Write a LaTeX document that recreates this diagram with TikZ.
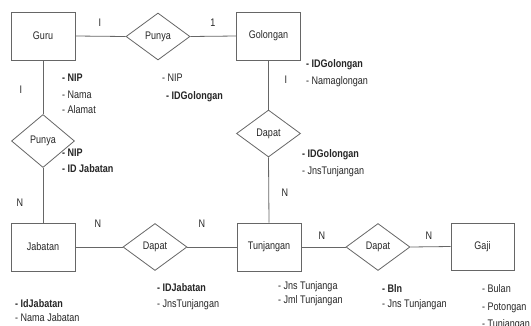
\documentclass[tikz,border=0pt]{standalone}
\usepackage{fontspec}
\setmainfont{Liberation Sans}[FakeStretch=0.82]
\usetikzlibrary{shapes.geometric}
\begin{document}
\begin{tikzpicture}[x=1pt,y=-1pt,
  font=\fontsize{11}{13}\selectfont,
  entity/.style={draw=black!60,line width=0.8pt,rectangle,minimum width=64pt,minimum height=48pt,inner sep=0pt,text=black!85},
  relation/.style={draw=black!60,line width=0.8pt,diamond,minimum width=64pt,minimum height=47pt,inner sep=0pt,text=black!85},
  link/.style={draw=black!60,line width=0.8pt},
  card/.style={text=black!85,inner sep=0pt},
  attr/.style={anchor=base west,inner sep=0pt,text=black!85},
  key/.style={attr,font=\fontsize{11}{13}\selectfont\bfseries}]
\useasboundingbox (0,0) rectangle (531,325);
\fill[white] (0,0) rectangle (531,325);

% entities
\node[entity] (guru) at (43,36) {Guru};
\node[entity] (golongan) at (268.5,36) {Golongan};
\node[entity] (jabatan) at (43,247) {Jabatan};
\node[entity] (tunjangan) at (269,247) {Tunjangan};
\node[entity,minimum width=63pt,minimum height=47pt] (gaji) at (482.5,246.5) {Gaji};

% relationships
\node[relation] (punyaA) at (158,36.5) {Punya};
\node[relation,minimum width=63pt,minimum height=53pt] (punyaB) at (43,141) {Punya};
\node[relation] (dapatA) at (268.5,133.5) {Dapat};
\node[relation] (dapatB) at (155,247) {Dapat};
\node[relation] (dapatC) at (378,247) {Dapat};

% connectors
\draw[link] (guru.east) -- (punyaA.west);
\draw[link] (punyaA.east) -- (golongan.west);
\draw[link] (guru.south) -- (punyaB.north);
\draw[link] (punyaB.south) -- (jabatan.north);
\draw[link] (golongan.south) -- (dapatA.north);
\draw[link] (dapatA.south) -- (tunjangan.north);
\draw[link] (jabatan.east) -- (dapatB.west);
\draw[link] (dapatB.east) -- (tunjangan.west);
\draw[link] (tunjangan.east) -- (dapatC.west);
\draw[link] (dapatC.east) -- (gaji.west);

% cardinalities
\node[card] (c1) at (100,23) {I};
\node[card] (c2) at (213,23) {1};
\node[card] (c3) at (21,90) {I};
\node[card] (c4) at (20,203) {N};
\node[card] (c5) at (286,80) {I};
\node[card] (c6) at (285,193) {N};
\node[card] (c7) at (98,224) {N};
\node[card] (c8) at (202,224) {N};
\node[card] (c9) at (322,236) {N};
\node[card] (c10) at (429,236) {N};

% attributes of Guru
\node[key]  (gu1) at (62,81) {- NIP};
\node[attr] (gu2) at (62,98) {- Nama};
\node[attr] (gu3) at (62,113) {- Alamat};
% attributes of Punya (Guru--Golongan)
\node[attr] (pa1) at (162,81) {- NIP};
\node[key]  (pa2) at (166,99) {- IDGolongan};
% attributes of Punya (Guru--Jabatan)
\node[key]  (pb1) at (62,156) {- NIP};
\node[key]  (pb2) at (62,172) {- ID Jabatan};
% attributes of Golongan
\node[key]  (go1) at (306,67) {- IDGolongan};
\node[attr] (go2) at (306,84) {- Namaglongan};
% attributes of Dapat (Golongan--Tunjangan)
\node[key]  (da1) at (302,157) {- IDGolongan};
\node[attr] (da2) at (302,174) {- JnsTunjangan};
% attributes of Jabatan
\node[key]  (ja1) at (15,307) {- IdJabatan};
\node[attr] (ja2) at (15,321) {- Nama Jabatan};
% attributes of Dapat (Jabatan--Tunjangan)
\node[key]  (db1) at (157,291) {- IDJabatan};
\node[attr] (db2) at (157,307) {- JnsTunjangan};
% attributes of Tunjangan
\node[attr] (tu1) at (278,289) {- Jns Tunjanga};
\node[attr] (tu2) at (278,303) {- Jml Tunjangan};
% attributes of Dapat (Tunjangan--Gaji)
\node[key]  (dc1) at (382,292) {- Bln};
\node[attr] (dc2) at (382,307) {- Jns Tunjangan};
% attributes of Gaji
\node[attr] (ga1) at (482,292) {- Bulan};
\node[attr] (ga2) at (482,310) {- Potongan};
\node[attr] (ga3) at (482,327) {- Tunjangan};
\end{tikzpicture}
\end{document}
